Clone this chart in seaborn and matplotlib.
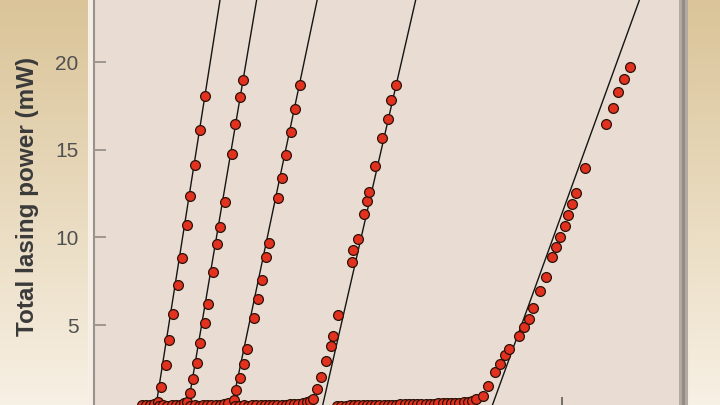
import numpy as np
import pandas as pd
import matplotlib
matplotlib.use("Agg")
import matplotlib.pyplot as plt
import seaborn as sns
from matplotlib.patches import Rectangle

sns.set_theme(style="white")
plt.rcParams["font.family"] = ["Liberation Sans", "DejaVu Sans"]

# ---------------- data (current in arbitrary mA-like units, power in mW) -------------
c1_x = [13.64, 14.41, 15.35, 16.12, 16.92, 18.01, 18.78, 19.98, 20.56, 21.69, 22.70, 23.77]
c1_y = [0.62, 1.48, 2.72, 4.14, 5.62, 7.26, 8.82, 10.72, 12.36, 14.14, 16.16, 18.08]
c1_sub_x = [10.3, 11.1, 12.0, 12.8]
c1_sub_y = [0.41, 0.42, 0.44, 0.48]

c2_x = [19.91, 20.49, 21.13, 21.91, 22.76, 23.62, 24.35, 25.48, 26.27, 26.98, 27.90, 29.40, 30.19, 31.20, 31.84]
c2_y = [0.62, 1.10, 1.90, 2.81, 3.95, 5.13, 6.21, 8.02, 9.60, 10.57, 12.00, 14.79, 16.46, 18.02, 19.01]
c2_sub_x = [13.9, 14.8, 15.7, 16.6, 17.5, 18.4, 19.2]
c2_sub_y = [0.40, 0.41, 0.40, 0.42, 0.43, 0.46, 0.52]

c3_x = [29.83, 30.34, 31.20, 32.12, 32.70, 34.26, 35.06, 35.91, 36.77, 37.41, 39.40, 40.26, 41.05, 42.03, 43.04, 43.96]
c3_y = [0.72, 1.29, 1.96, 2.77, 3.61, 5.38, 6.46, 7.56, 8.89, 9.71, 12.26, 13.42, 14.71, 16.02, 17.34, 18.69]
c3_sub_x = [20.6, 21.5, 22.4, 23.3, 24.2, 25.1, 26.0, 26.9, 27.8, 28.6]
c3_sub_y = [0.39, 0.41, 0.40, 0.42, 0.41, 0.43, 0.44, 0.46, 0.49, 0.56]

c4_x = [46.75, 47.69, 48.54, 49.61, 50.69, 51.03, 52.25, 55.18, 55.46, 56.42, 57.75, 58.46, 58.74, 60.17, 61.61, 62.74, 63.53, 64.45]
c4_y = [0.78, 1.33, 2.01, 2.94, 3.82, 4.37, 5.58, 8.61, 9.28, 9.89, 11.35, 12.11, 12.58, 14.07, 15.68, 16.75, 17.82, 18.73]
c4_sub_x = [30.2, 31.1, 32.0, 32.9, 33.8, 34.7, 35.6, 36.5, 37.4, 38.3, 39.2, 40.1, 41.0, 41.9, 42.8, 43.7, 44.6, 45.5, 46.2]
c4_sub_y = [0.39, 0.40, 0.41, 0.40, 0.42, 0.41, 0.43, 0.42, 0.44, 0.43, 0.45, 0.44, 0.46, 0.47, 0.48, 0.51, 0.55, 0.61, 0.68]

c5_x = [81.73, 83.08, 84.22, 85.65, 86.72, 87.86, 88.80, 90.86, 91.86, 92.93, 93.85, 95.29, 96.57, 97.86, 98.72,
        99.57, 100.64, 101.22, 102.14, 103.00, 104.99, 109.42, 110.86, 112.06, 113.28, 114.56]
c5_y = [0.76, 0.96, 1.52, 2.32, 2.77, 3.29, 3.63, 4.37, 4.90, 5.32, 5.95, 6.95, 7.75, 8.88, 9.43,
        10.00, 10.68, 11.29, 11.92, 12.54, 13.97, 16.50, 17.42, 18.31, 19.07, 19.73]
c5_sub_x = [52.0, 52.9, 53.8, 54.7, 55.6, 56.5, 57.4, 58.3, 59.2, 60.1, 61.0, 61.9, 62.8, 63.7, 64.6, 65.5, 66.4,
            67.3, 68.2, 69.1, 70.0, 70.9, 71.8, 72.7, 73.6, 74.5, 75.4, 76.3, 77.2, 78.1, 79.0, 79.9, 80.8]
c5_sub_y = [0.39, 0.40, 0.40, 0.41, 0.41, 0.42, 0.42, 0.43, 0.43, 0.44, 0.44, 0.45, 0.45, 0.46, 0.46, 0.47, 0.47,
            0.48, 0.48, 0.49, 0.49, 0.50, 0.51, 0.51, 0.52, 0.53, 0.54, 0.55, 0.56, 0.57, 0.59, 0.62, 0.65]

# linear fits: threshold current and slope efficiency
fit_threshold = [13.03, 19.83, 29.18, 48.52, 84.58]
fit_slope = [1.694, 1.578, 1.272, 1.164, 0.736]

y_ticks = [5, 10, 15, 20]
x_ticks = [100]
y_label = "Total lasing power (mW)"

# ---------------- assemble --------------------------------------------------------
curves = [
    (c1_sub_x + c1_x, c1_sub_y + c1_y),
    (c2_sub_x + c2_x, c2_sub_y + c2_y),
    (c3_sub_x + c3_x, c3_sub_y + c3_y),
    (c4_sub_x + c4_x, c4_sub_y + c4_y),
    (c5_sub_x + c5_x, c5_sub_y + c5_y),
]
pts = pd.concat(
    [pd.DataFrame({"current": xs, "power": ys, "curve": i}) for i, (xs, ys) in enumerate(curves)],
    ignore_index=True,
)

YMAX = 24.7
XMAX = 125.9
line_rows = []
for i, (t, s) in enumerate(zip(fit_threshold, fit_slope)):
    line_rows.append({"current": t, "power": 0.0, "curve": i})
    line_rows.append({"current": t + YMAX * 1.02 / s, "power": YMAX * 1.02, "curve": i})
lines = pd.DataFrame(line_rows)

# ---------------- figure ------------------------------------------------------------
W, H = 720, 405
fig = plt.figure(figsize=(W / 100, H / 100), dpi=100)

bg = fig.add_axes([0, 0, 1, 1], zorder=0)
top_c = np.array([218, 196, 152]) / 255.0
bot_c = np.array([247, 240, 228]) / 255.0
t = np.linspace(0, 1, H)[:, None, None]
grad = np.repeat(top_c * (1 - t) + bot_c * t, W, axis=1)
bg.imshow(grad, extent=[0, W, H, 0], aspect="auto")
bg.add_patch(Rectangle((88, 0), 5, H, color="#f6efe6", lw=0))
bg.set_xlim(0, W)
bg.set_ylim(H, 0)
bg.axis("off")

px_left, px_right = 94, 683
px_bottom, px_top = 412.6, -20
ax = fig.add_axes(
    [px_left / W, (H - px_bottom) / H, (px_right - px_left) / W, (px_bottom - px_top) / H],
    zorder=2,
)
ax.set_facecolor("#e9ddd3")

sns.lineplot(data=lines, x="current", y="power", units="curve", estimator=None,
             color="#151515", lw=1.0, ax=ax, legend=False, zorder=2)
sns.scatterplot(data=pts, x="current", y="power", color="#e2321f", edgecolor="#2a1208",
                linewidth=0.9, s=50, ax=ax, legend=False, zorder=3, clip_on=True)

ax.set_xlim(0, XMAX)
ax.set_ylim(0, YMAX)
ax.set_xlabel("")
ax.set_ylabel("")
ax.set_yticks(y_ticks)
ax.set_yticklabels([str(v) for v in y_ticks])
ax.set_xticks(x_ticks)
ax.tick_params(axis="y", direction="in", length=8.6, width=1.1, color="#8a847f",
               labelsize=15, labelcolor="#505050", pad=11, left=True)
ax.tick_params(axis="x", direction="in", length=11.5, width=1.1, color="#505050",
               labelbottom=False, bottom=True)

ax.spines["top"].set_visible(False)
ax.spines["left"].set_color("#9a928c")
ax.spines["left"].set_linewidth(1.5)
ax.spines["bottom"].set_color("#9a928c")
ax.spines["right"].set_color("#b3aaa3")
ax.spines["right"].set_linewidth(6.5)
ax.axvline(XMAX, color="#958c85", lw=2.2, clip_on=False, zorder=5)

fig.text(28 / W, 1 - 196 / H, y_label, rotation=90, ha="center", va="center",
         fontsize=17.5, fontweight="bold", color="#3a3a3a")

fig.savefig("out.png", dpi=100)
